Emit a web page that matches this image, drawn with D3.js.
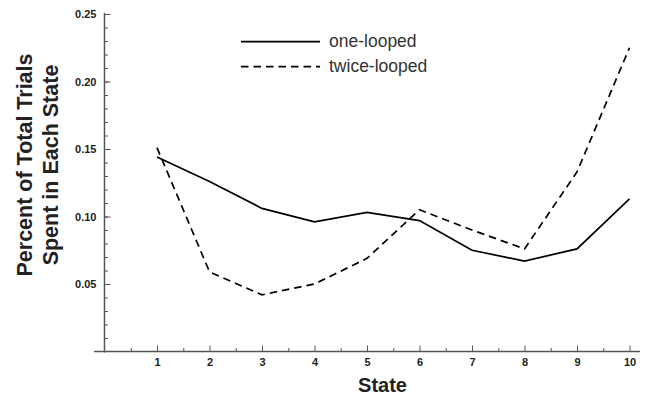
<!doctype html>
<html>
<head>
<script src="https://d3js.org/d3.v7.min.js"></script>
<style>
  body { margin: 0; background: #fff; }
  text { font-family: "Liberation Sans", Arial, sans-serif; }
</style>
</head>
<body>
<svg id="chart" width="649" height="398"></svg>
<script>
  var states = [1, 2, 3, 4, 5, 6, 7, 8, 9, 10];
  var oneLooped = [0.144, 0.126, 0.106, 0.096, 0.103, 0.097, 0.075, 0.067, 0.076, 0.113];
  var twiceLooped = [0.151, 0.059, 0.042, 0.050, 0.069, 0.105, 0.090, 0.076, 0.133, 0.225];
  var yTicks = [0.05, 0.10, 0.15, 0.20, 0.25];
  var seriesNames = ["one-looped", "twice-looped"];

  var svg = d3.select("#chart");

  var x = d3.scaleLinear().domain([0, 10]).range([104.5, 629.5]);
  var y = d3.scaleLinear().domain([0, 0.25]).range([351.5, 14]);

  var axisColor = "#555";

  // minor ticks
  svg.append("g")
     .attr("transform", "translate(" + x(0) + ",0)")
     .call(d3.axisLeft(y).tickValues(d3.range(0.01, 0.251, 0.01)).tickSize(-3.5).tickFormat(""))
     .call(function(g) { g.select(".domain").remove(); g.selectAll("line").attr("stroke", axisColor); });

  svg.append("g")
     .attr("transform", "translate(0," + y(0) + ")")
     .call(d3.axisBottom(x).tickValues(d3.range(0.5, 10.01, 1)).tickSize(-3.5).tickFormat(""))
     .call(function(g) { g.select(".domain").remove(); g.selectAll("line").attr("stroke", axisColor); });

  // major ticks
  svg.append("g")
     .attr("transform", "translate(" + x(0) + ",0)")
     .call(d3.axisLeft(y).tickValues(yTicks).tickSize(-6).tickPadding(8).tickFormat(d3.format(".2f")))
     .call(function(g) {
         g.select(".domain").remove();
         g.selectAll("line").attr("stroke", axisColor);
         g.selectAll("text").attr("font-size", "11px").attr("font-weight", "bold").attr("fill", "#222")
          .attr("font-family", "Liberation Sans, Arial, sans-serif");
     });

  svg.append("g")
     .attr("transform", "translate(0," + y(0) + ")")
     .call(d3.axisBottom(x).tickValues(states).tickSize(-6).tickPadding(7).tickFormat(d3.format("d")))
     .call(function(g) {
         g.select(".domain").remove();
         g.selectAll("line").attr("stroke", axisColor);
         g.selectAll("text").attr("font-size", "11px").attr("font-weight", "bold").attr("fill", "#222")
          .attr("font-family", "Liberation Sans, Arial, sans-serif");
     });

  // axis lines
  svg.append("line")
     .attr("x1", x(0)).attr("x2", x(0))
     .attr("y1", y(0.251)).attr("y2", y(0) + 1)
     .attr("stroke", axisColor).attr("stroke-width", 1.5);
  svg.append("line")
     .attr("x1", x(-0.2)).attr("x2", x(10.2))
     .attr("y1", y(0)).attr("y2", y(0))
     .attr("stroke", axisColor).attr("stroke-width", 1.5);

  // series
  var line = d3.line()
      .x(function(d, i) { return x(states[i]); })
      .y(function(d) { return y(d); });

  svg.append("path")
     .datum(oneLooped)
     .attr("d", line)
     .attr("fill", "none")
     .attr("stroke", "#000")
     .attr("stroke-width", 1.7);

  svg.append("path")
     .datum(twiceLooped)
     .attr("d", line)
     .attr("fill", "none")
     .attr("stroke", "#000")
     .attr("stroke-width", 1.7)
     .attr("stroke-dasharray", "7.5,5");

  // legend
  var legend = svg.append("g");
  seriesNames.forEach(function(name, i) {
      var ly = 41.7 + i * 25;
      legend.append("line")
            .attr("x1", 241).attr("x2", 320)
            .attr("y1", ly).attr("y2", ly)
            .attr("stroke", "#000").attr("stroke-width", 1.7)
            .attr("stroke-dasharray", i === 1 ? "7.5,5" : null);
      legend.append("text")
            .attr("x", 329).attr("y", ly + 5)
            .attr("font-size", "17.5px")
            .attr("fill", "#333")
            .text(name);
  });

  // axis titles
  svg.append("text")
     .attr("x", 382.5).attr("y", 392)
     .attr("text-anchor", "middle")
     .attr("font-size", "20px").attr("font-weight", "bold").attr("fill", "#222")
     .text("State");

  svg.append("text")
     .attr("transform", "translate(32,165) rotate(-90)")
     .attr("text-anchor", "middle")
     .attr("font-size", "21.5px").attr("font-weight", "bold").attr("fill", "#222")
     .text("Percent of Total Trials");

  svg.append("text")
     .attr("transform", "translate(58,165) rotate(-90)")
     .attr("text-anchor", "middle")
     .attr("font-size", "21.5px").attr("font-weight", "bold").attr("fill", "#222")
     .text("Spent in Each State");
</script>
</body>
</html>
